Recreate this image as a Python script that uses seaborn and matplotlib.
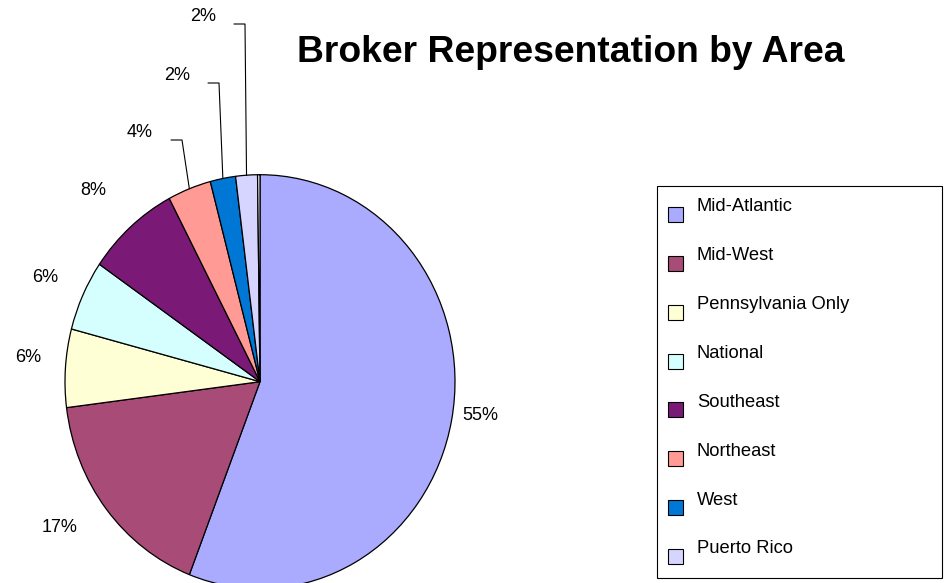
import numpy as np
import matplotlib
matplotlib.use("Agg")
import matplotlib.pyplot as plt
import matplotlib.patches as mpatches
from matplotlib.legend_handler import HandlerPatch
import seaborn as sns

sns.set_theme(style="white")
plt.rcParams["font.family"] = ["Liberation Sans", "DejaVu Sans"]

# ---- data ----
categories = ["Mid-Atlantic", "Mid-West", "Pennsylvania Only", "National",
              "Southeast", "Northeast", "West", "Puerto Rico"]
values = [55.9, 17.1, 6.1, 5.5, 7.7, 3.6, 2.1, 1.8]
pct_labels = ["55%", "17%", "6%", "6%", "8%", "4%", "2%", "2%"]
other_value = [0.2]  # tiny unlabeled sliver at the top
colors = ["#AAAAFF", "#A84B76", "#FFFFD5", "#D5FFFF",
          "#7A1A76", "#FF9A94", "#0077D4", "#D5D5FF"]
title = "Broker Representation by Area"

# ---- layout (pixels) ----
W, H = 947, 583
cx, cy, rx, ry = 260, 381.7, 195, 207
# label centers in pixels
label_px = [(480, 415), (60, 527), (28, 358), (45, 277),
            (93, 190), (140, 132), (177, 75), (203, 16)]
leader = [False, False, False, False, False, True, True, True]


def px2data(x, y):
    return (x - cx) / rx, (cy - y) / ry


fig = plt.figure(figsize=(W / 100, H / 100), dpi=100)
ax = fig.add_axes([0, 0, 1, 1])
wedges, _ = ax.pie(values + other_value, colors=colors + ["white"],
                   startangle=90, counterclock=False, radius=1,
                   wedgeprops=dict(edgecolor="black", linewidth=0.9))
ax.set_aspect("auto")
ax.set_xlim(-cx / rx, (W - cx) / rx)
ax.set_ylim(-(H - cy) / ry, cy / ry)
ax.axis("off")

for i, (lab, w) in enumerate(zip(pct_labels, wedges)):
    lx, ly = px2data(*label_px[i])
    ax.text(lx, ly, lab, ha="center", va="center",
            fontsize=13, color="black")
    if leader[i]:
        th = np.deg2rad((w.theta1 + w.theta2) / 2)
        ex, ey = np.cos(th), np.sin(th)
        px, py = label_px[i]
        c1 = px2data(px + 42, py + 8)
        c2 = px2data(px + 31, py + 8)
        ax.plot([ex, c1[0], c2[0]], [ey, c1[1], c2[1]], color="black", lw=0.8)

fig.text(571 / W, 1 - 53 / H, title, ha="center", va="center",
         fontsize=26.8, fontweight="bold", color="black")

FS = 13.2


class SquareHandler(HandlerPatch):
    def create_artists(self, legend, orig_handle, xdescent, ydescent,
                       width, height, fontsize, trans):
        s = 10.8
        p = mpatches.Rectangle((-xdescent, -ydescent - 7.0), s, s,
                               facecolor=orig_handle.get_facecolor(),
                               edgecolor="black", linewidth=0.8,
                               transform=trans)
        return [p]


leg = ax.legend(wedges[:len(categories)], categories,
                loc="upper left",
                bbox_to_anchor=(668 / W, 1 - 198 / H),
                bbox_transform=fig.transFigure,
                borderaxespad=0, fontsize=FS, frameon=False,
                handlelength=0.82, handleheight=0.82, handletextpad=0.76,
                labelspacing=1.71, borderpad=0,
                handler_map={mpatches.Wedge: SquareHandler()})
for t in leg.get_texts():
    t.set_color("black")

fig.add_artist(mpatches.Rectangle((657 / W, 1 - 578 / H), 285 / W, 392 / H,
                                  transform=fig.transFigure, fill=False,
                                  edgecolor="black", linewidth=0.8))

fig.savefig("out.png", dpi=100, facecolor="white")
